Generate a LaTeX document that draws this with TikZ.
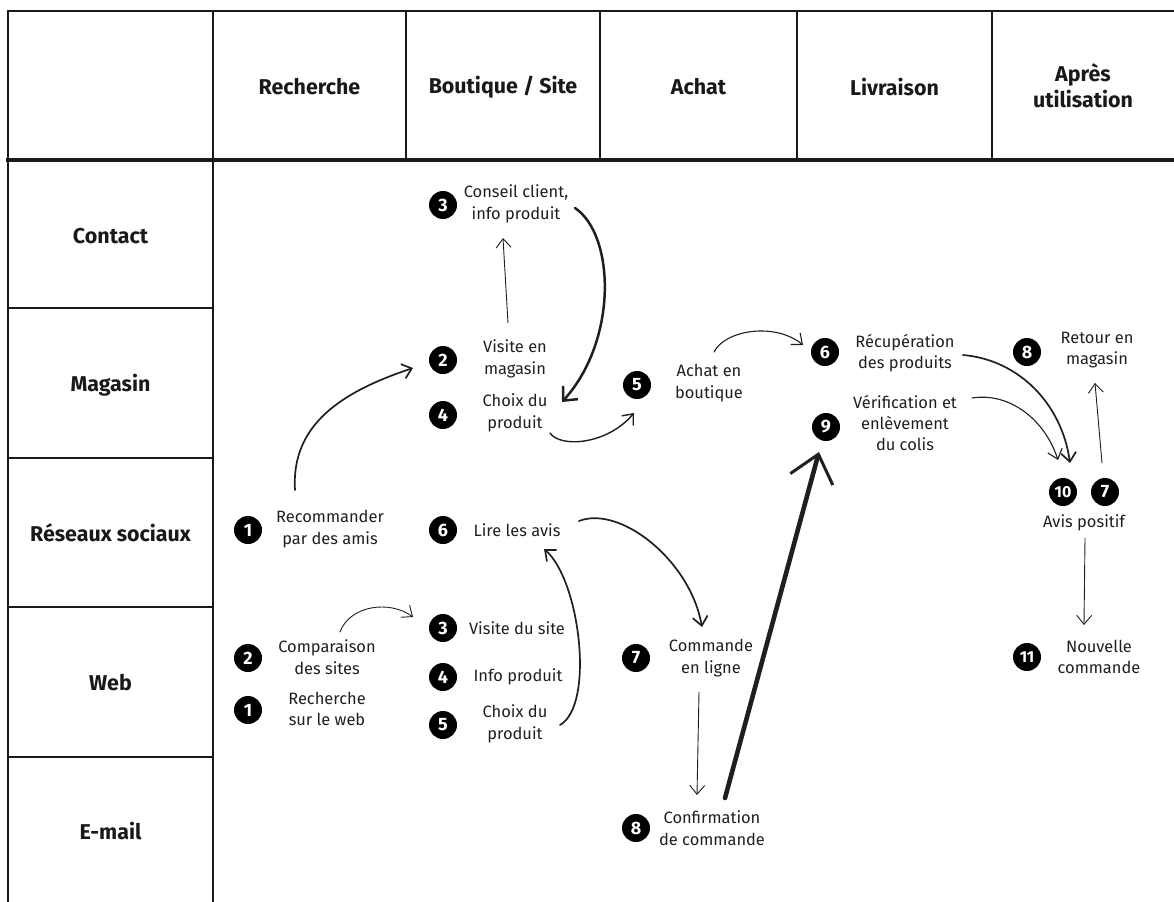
\documentclass[tikz,border=0pt]{standalone}
\usepackage{fontspec}
\setmainfont{Fira Sans}
\usetikzlibrary{arrows.meta}

\begin{document}
\begin{tikzpicture}[x=1bp,y=-1bp,
  grid/.style={line width=2.6bp, draw=black!90, line cap=rect},
  head/.style={font=\fontsize{21.5}{26}\selectfont\bfseries, align=center, text=black!90, inner sep=0pt},
  lab/.style={font=\fontsize{16.5}{21.5}\selectfont, align=center, inner sep=0pt, text=black!88},
  badge/.style={circle, fill=black, text=white, minimum size=28bp, inner sep=0pt,
                font=\fontsize{18}{18}\selectfont\bfseries},
  wide badge/.style={badge, font=\fontsize{16}{16}\selectfont\bfseries},
  link/.style={draw=black!88, line cap=round, line join=round,
               -{Straight Barb[length=9bp,width=15bp]}},
  fine/.style={link, line width=0.9bp},
  medium/.style={link, line width=1.7bp},
  strong/.style={link, line width=2.5bp, -{Straight Barb[length=11bp,width=20bp]}},
  heavy/.style={link, line width=4.6bp, -{Straight Barb[length=26bp,width=44bp,line width=3bp]}}
]
\useasboundingbox (0,0) rectangle (1174,902);

% table frame
\draw[grid] (8,11) -- (1174,11);
\draw[grid, line width=3.2bp] (8,160) -- (1174,160);
\draw[grid] (8,11) -- (8,902);
\draw[grid] (213,11) -- (213,902);
\foreach \x in {406,600,797,992} \draw[grid] (\x,11) -- (\x,160);
\foreach \y in {308,458,607,757} \draw[grid] (8,\y) -- (213,\y);

% stage headers
\node[head] (h-rech) at (309.5,87) {Recherche};
\node[head] (h-bout) at (503,87) {Boutique / Site};
\node[head] (h-achat) at (698.5,87) {Achat};
\node[head] (h-livr) at (894.5,87) {Livraison};
\node[head] (h-apres) at (1083,86) {Après\\utilisation};

% channel labels
\node[head] (c-contact) at (110.5,236) {Contact};
\node[head] (c-magasin) at (110.5,385) {Magasin};
\node[head] (c-reseaux) at (110.5,533) {Réseaux sociaux};
\node[head] (c-web) at (110.5,683) {Web};
\node[head] (c-mail) at (110.5,831) {E-mail};

% store journey
\node[badge] (b-m3) at (443,205) {3};
\node[lab] (t-m3) at (516,204) {Conseil client,\\info produit};
\node[badge] (b-m2) at (443,360) {2};
\node[lab] (t-m2) at (515,359) {Visite en\\magasin};
\node[badge] (b-m4) at (443,415) {4};
\node[lab] (t-m4) at (515,413) {Choix du\\produit};
\node[badge] (b-m5) at (637,385) {5};
\node[lab] (t-m5) at (709,383) {Achat en\\boutique};
\node[badge] (b-m6) at (825,352) {6};
\node[lab] (t-m6) at (905,353) {Récupération\\des produits};
\node[badge] (b-m9) at (826,427) {9};
\node[lab] (t-m9) at (905,423) {Vérification et\\enlèvement\\du colis};
\node[badge] (b-m8) at (1027,352) {8};
\node[lab] (t-m8) at (1097,350) {Retour en\\magasin};
\node[wide badge] (b-10) at (1063,492) {10};
\node[badge] (b-7) at (1105,492) {7};
\node[lab] (t-avis) at (1084,523) {Avis positif};
\node[wide badge] (b-11) at (1027,657) {11};
\node[lab] (t-m11) at (1099,657) {Nouvelle\\commande};

% online journey
\node[badge] (b-r1) at (248,530) {1};
\node[lab] (t-r1) at (330,529) {Recommander\\par des amis};
\node[badge] (b-r6) at (443,530) {6};
\node[lab] (t-r6) at (517,530) {Lire les avis};
\node[badge] (b-w2) at (248,658) {2};
\node[lab] (t-w2) at (327,657) {Comparaison\\des sites};
\node[badge] (b-w1) at (248,710) {1};
\node[lab] (t-w1) at (327,709) {Recherche\\sur le web};
\node[badge] (b-w3) at (443,628) {3};
\node[lab] (t-w3) at (517,628) {Visite du site};
\node[badge] (b-w4) at (443,677) {4};
\node[lab] (t-w4) at (518,677) {Info produit};
\node[badge] (b-w5) at (443,725) {5};
\node[lab] (t-w5) at (515,724) {Choix du\\produit};
\node[badge] (b-w7) at (636,658) {7};
\node[lab] (t-w7) at (711,658) {Commande\\en ligne};
\node[badge] (b-e8) at (636,828) {8};
\node[lab] (t-e8) at (712,828) {Confirmation\\de commande};

% connectors
\draw[medium] ([shift={(-35,-39)}]t-r1.center)
  .. controls +(-4,-65) and +(-72,24) .. ([shift={(-30,8)}]b-m2.center);
\draw[fine] ([shift={(-7,-36)}]t-m2.center) -- ([shift={(-13,34)}]t-m3.center);
\draw[strong] ([shift={(59,4)}]t-m3.center)
  .. controls +(40,27) and +(56,-62) .. ([shift={(47,-11)}]t-m4.center);
\draw[medium, line width=1.4bp] ([shift={(35,20)}]t-m4.center)
  .. controls +(10,15) and +(-27,32) .. ([shift={(-3,28)}]b-m5.center);
\draw[fine, line width=1.1bp] ([shift={(5,-31)}]t-m5.center)
  .. controls +(11,-22) and +(-28,-23) .. ([shift={(-22,-7)}]b-m6.center);
\draw[medium] ([shift={(58,2)}]t-m6.center)
  .. controls +(57,5) and +(-8,-58) .. ([shift={(7,-29)}]b-10.center);
\draw[fine, line width=1.1bp] ([shift={(67,-25)}]t-m9.center)
  .. controls +(38,-6) and +(-13,-40) .. ([shift={(-5,-32)}]b-10.center);
\draw[fine] ([shift={(-3,-29)}]b-7.center) -- ([shift={(-2,33)}]t-m8.center);
\draw[fine] ([shift={(1,15)}]t-avis.center) -- ([shift={(-15,-32)}]t-m11.center);
\draw[medium] ([shift={(62,-9)}]t-r6.center)
  .. controls +(41,-16) and +(-12,-67) .. ([shift={(-9,-31)}]t-w7.center);
\draw[medium] ([shift={(45,1)}]t-w5.center)
  .. controls +(35,-20) and +(36,31) .. ([shift={(27,19)}]t-r6.center);
\draw[fine] ([shift={(13,-25)}]t-w2.center)
  .. controls +(10,-27) and +(-23,-17) .. ([shift={(-30,-11)}]b-w3.center);
\draw[fine] ([shift={(-12,34)}]t-w7.center) -- ([shift={(-15,-33)}]t-e8.center);
\draw[heavy] ([shift={(13,-30)}]t-e8.center) -- ([shift={(-7,25)}]b-m9.center);
\end{tikzpicture}
\end{document}
